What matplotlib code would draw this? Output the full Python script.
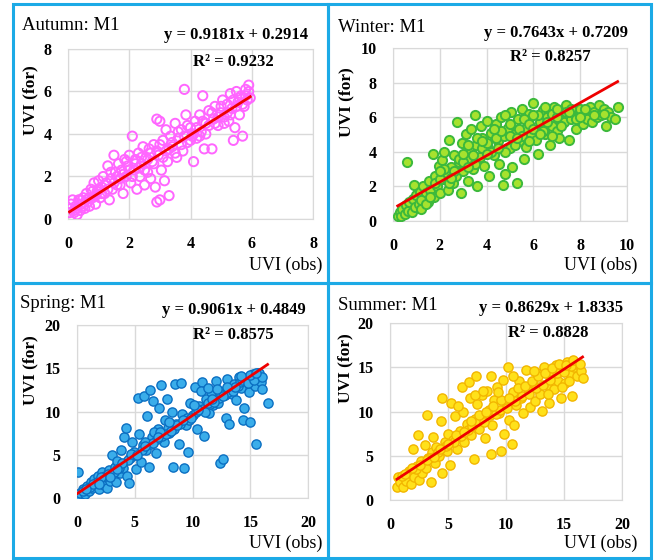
import numpy as np
import matplotlib
matplotlib.use('Agg')
import matplotlib.pyplot as plt
from matplotlib.patches import Rectangle

plt.rcParams['font.family'] = ['Liberation Serif', 'DejaVu Serif']

# ---- data (approximate) ----
autumn_x = [0.05, 0.1, 0.15, 0.2, 0.25, 0.3, 0.35, 0.4, 0.45, 0.5, 0.55, 0.6, 0.65, 0.7, 0.75, 0.8,
            0.85, 0.9, 0.95, 1.0, 1.05, 1.1, 1.15, 1.2, 1.25, 1.3, 1.35, 1.4, 1.45, 1.5, 1.55, 1.6,
            1.65, 1.7, 1.75, 1.8, 1.85, 1.9, 1.95, 2.0, 2.05, 2.1, 2.15, 2.2, 2.25, 2.3, 2.35, 2.4,
            2.45, 2.5, 2.55, 2.6, 2.65, 2.7, 2.75, 2.8, 2.85, 2.9, 2.9, 2.95, 3.0, 3.0, 3.05, 3.1,
            3.15, 3.2, 3.25, 3.3, 3.35, 3.4, 3.5, 3.55, 3.6, 3.7, 3.75, 3.8, 3.85, 3.9, 4.0, 4.05,
            4.1, 4.15, 4.2, 4.3, 4.35, 4.4, 4.45, 4.5, 4.6, 4.7, 4.75, 4.8, 4.9, 5.0, 5.05, 5.1,
            5.2, 5.25, 5.3, 5.35, 5.4, 5.45, 5.5, 5.55, 5.6, 5.65, 5.7, 5.75, 5.8, 5.85, 5.9, 5.95,
            0.1, 0.2, 0.3, 0.4, 0.5, 0.6, 0.7, 0.8, 0.9, 1.0, 1.1, 1.2, 1.3, 1.4, 1.5, 1.6,
            1.7, 1.8, 1.9, 2.0, 2.1, 2.2, 2.3, 2.4, 2.5, 2.6, 2.7, 2.8, 2.9, 3.0, 3.1, 3.2,
            3.3, 3.4, 3.5, 3.6, 3.7, 3.8, 3.9, 4.0, 4.1, 4.2, 4.3, 4.4, 4.5, 4.6, 4.7, 4.8,
            4.9, 5.0, 5.1, 5.2, 5.3, 5.4, 5.5, 5.6, 5.7, 5.8, 5.9]
autumn_y = [0.3, 0.5, 0.9, 0.3, 0.6, 0.2, 0.9, 0.4, 0.7, 1.0, 0.5, 1.2, 0.8, 0.6, 1.4, 1.0,
            1.7, 0.7, 1.3, 1.8, 1.0, 1.5, 2.0, 1.2, 1.7, 2.5, 0.9, 1.9, 1.4, 3.0, 2.2, 1.6,
            2.6, 1.9, 2.3, 1.2, 2.8, 2.0, 2.5, 3.0, 1.7, 3.9, 2.3, 2.8, 1.4, 3.1, 2.0, 2.6,
            3.4, 1.6, 2.9, 2.2, 3.3, 1.9, 2.7, 3.5, 1.5, 0.8, 4.7, 3.0, 0.9, 4.6, 2.3, 3.7,
            1.8, 3.2, 2.7, 1.1, 3.9, 3.4, 4.5, 2.9, 3.8, 4.2, 3.2, 6.1, 4.9, 3.6, 4.3, 3.9,
            2.7, 4.6, 3.8, 4.9, 4.1, 5.8, 3.3, 4.5, 5.1, 3.3, 4.7, 5.3, 4.4, 5.0, 5.6, 4.8,
            5.4, 4.6, 5.9, 5.2, 3.7, 4.3, 6.0, 5.5, 4.9, 5.8, 3.9, 5.3, 6.1, 5.6, 6.3, 5.7,
            0.7, 0.4, 0.5, 0.9, 0.6, 0.9, 1.0, 1.3, 1.1, 1.4, 1.2, 1.6, 1.4, 2.2, 1.7, 2.0,
            1.6, 2.1, 2.7, 2.3, 2.0, 2.6, 2.4, 2.9, 2.3, 2.8, 3.1, 2.6, 3.2, 3.5, 2.9, 4.2,
            3.3, 3.6, 3.1, 4.1, 3.5, 3.9, 4.4, 3.7, 4.0, 4.3, 3.9, 4.6, 4.0, 4.4, 5.0, 4.5,
            4.8, 5.3, 4.5, 5.0, 4.9, 5.6, 5.3, 5.7, 5.4, 5.8, 6.0]

winter_x = [0.2, 0.3, 0.35, 0.4, 0.5, 0.55, 0.6, 0.65, 0.7, 0.8, 0.85, 0.9, 0.95, 1.0, 1.1, 1.15,
            1.2, 1.3, 1.35, 1.4, 1.5, 1.55, 1.6, 1.7, 1.75, 1.8, 1.9, 1.95, 2.0, 2.1, 2.15, 2.2,
            2.3, 2.35, 2.4, 2.5, 2.55, 2.6, 2.7, 2.75, 2.8, 2.9, 2.95, 3.0, 3.1, 3.15, 3.2, 3.3,
            3.35, 3.4, 3.5, 3.55, 3.6, 3.7, 3.75, 3.8, 3.9, 4.0, 4.05, 4.1, 4.2, 4.3, 4.4, 4.5,
            4.55, 4.6, 4.7, 4.75, 4.8, 4.9, 5.0, 5.05, 5.1, 5.2, 5.3, 5.35, 5.4, 5.5, 5.6, 5.65,
            5.7, 5.8, 5.9, 6.0, 6.1, 6.2, 6.3, 6.4, 6.5, 6.6, 6.7, 6.8, 6.9, 7.0, 7.1, 7.2,
            7.3, 7.4, 7.5, 7.6, 7.7, 7.8, 7.9, 8.0, 8.1, 8.2, 8.3, 8.4, 8.5, 8.6, 8.7, 8.8,
            8.9, 9.0, 9.1, 9.2, 9.3, 9.5, 9.6,
            1.2, 1.4, 1.6, 1.8, 2.0, 2.2, 2.4, 2.6, 2.8, 3.0, 3.2, 3.4, 3.6, 3.8, 4.0, 4.2,
            4.4, 4.6, 4.8, 5.0, 5.2, 5.4, 5.6, 5.8, 6.0, 6.2, 6.4, 6.6, 6.8, 7.0, 7.2, 7.4,
            7.6, 7.8, 8.0, 8.2, 8.6, 9.0, 2.0, 2.5, 3.0, 3.5, 4.0, 4.5, 5.0, 5.5, 6.0, 6.5,
            7.0, 7.5, 3.2, 3.8, 4.3, 4.8, 5.3, 5.8, 6.3, 6.8]
winter_y = [0.3, 0.5, 0.3, 0.7, 0.4, 0.9, 3.4, 0.6, 1.1, 0.5, 1.3, 2.1, 0.8, 1.5, 1.0, 1.7,
            0.7, 2.0, 1.3, 1.6, 1.1, 2.3, 1.8, 3.9, 1.4, 2.6, 2.0, 3.2, 1.6, 3.5, 2.4, 4.0,
            2.8, 1.8, 4.7, 3.1, 2.2, 3.8, 2.6, 5.7, 3.4, 1.6, 4.5, 2.9, 5.0, 3.6, 2.3, 4.1,
            5.3, 3.0, 6.1, 4.4, 2.0, 3.7, 5.5, 4.8, 3.2, 5.8, 4.2, 2.6, 5.1, 3.8, 5.6, 4.6,
            3.3, 6.0, 2.1, 4.9, 2.7, 5.4, 4.2, 6.3, 3.1, 5.0, 2.2, 5.9, 4.6, 6.5, 3.6, 5.3,
            4.3, 6.2, 5.0, 6.8, 4.7, 3.9, 5.7, 6.4, 5.0, 6.0, 4.4, 5.5, 6.6, 5.2, 4.8, 6.2,
            5.7, 6.7, 4.7, 5.9, 6.3, 5.3, 6.0, 6.5, 5.6, 6.2, 5.9, 6.6, 5.7, 6.3, 6.0, 6.7,
            6.1, 6.5, 5.5, 6.3, 6.0, 5.9, 6.6,
            1.2, 1.0, 1.4, 2.2, 2.4, 3.0, 2.2, 2.9, 3.6, 3.4, 4.4, 3.8, 4.8, 4.2, 4.5, 4.0,
            4.8, 5.2, 4.0, 5.6, 4.4, 5.3, 5.9, 5.6, 5.3, 6.1, 5.2, 5.7, 6.2, 6.0, 5.5, 6.3,
            6.5, 5.9, 6.0, 6.5, 6.1, 6.2, 2.9, 2.5, 3.9, 3.3, 3.9, 4.2, 4.9, 4.9, 6.1, 6.6,
            6.5, 6.3, 3.1, 4.6, 5.3, 6.1, 4.8, 4.6, 5.0, 4.9]

spring_x = [0.0, 0.05, 0.1, 0.3, 0.5, 0.7, 0.9, 1.0, 1.2, 1.3, 1.5, 1.6, 1.8, 1.9, 2.0, 2.2,
            2.3, 2.5, 2.6, 2.8, 2.9, 3.0, 3.1, 3.3, 3.4, 3.5, 3.7, 3.8, 4.0, 4.1, 4.2, 4.3,
            4.5, 4.6, 4.8, 5.0, 5.1, 5.3, 5.4, 5.5, 5.7, 5.8, 6.0, 6.1, 6.2, 6.3, 6.5, 6.6,
            6.8, 7.0, 7.1, 7.3, 7.5, 7.6, 7.8, 8.0, 8.2, 8.3, 8.5, 8.6, 8.8, 9.0, 9.1, 9.3,
            9.4, 9.6, 9.8, 10.0, 10.2, 10.4, 10.6, 10.8, 11.0, 11.2, 11.4, 11.6, 11.8, 12.0, 12.2, 12.4,
            12.6, 12.7, 12.9, 13.0, 13.2, 13.4, 13.6, 13.8, 14.0, 14.2, 14.4, 14.5, 14.7, 14.9, 15.0, 15.2,
            15.4, 15.5, 15.7, 15.9, 16.0, 16.5,
            2.4, 3.6, 4.4, 5.6, 6.4, 6.9, 7.4, 7.9, 8.4, 8.9, 9.5, 10.3, 10.9, 11.5, 12.3, 12.8,
            13.3, 13.9, 14.6, 15.6, 1.1, 1.7, 2.7, 3.2, 4.9, 6.7, 7.7, 9.7, 11.1, 12.5, 13.1, 14.1, 15.1,
            0.5, 1.4, 2.1, 2.9, 3.9, 4.7, 5.2, 5.9, 6.6, 7.2, 8.1, 8.7, 9.2, 9.9, 10.5, 11.3,
            11.9, 12.6, 13.5, 14.3, 14.8, 15.3, 15.8, 0.8, 1.9, 3.5, 5.9, 7.0, 8.0, 10.1, 11.7, 13.7,
            15.0, 16.0, 10.7, 11.3, 12.1, 13.0, 14.2, 15.5]
spring_y = [0.0, 3.0, 0.3, 0.6, 1.0, 0.5, 1.4, 0.8, 1.8, 1.1, 2.2, 1.5, 2.6, 1.0, 2.0, 3.0,
            1.5, 2.4, 1.2, 3.2, 2.0, 5.0, 2.7, 3.6, 1.8, 4.3, 2.9, 5.5, 3.5, 7.0, 8.1, 2.5,
            1.7, 4.6, 6.5, 5.0, 3.4, 11.6, 7.4, 4.2, 6.1, 11.8, 5.5, 9.5, 3.6, 12.5, 7.0, 11.2,
            5.2, 8.0, 10.4, 13.1, 6.5, 9.0, 11.5, 7.5, 10.0, 3.6, 13.2, 8.6, 6.2, 13.3, 9.7, 3.5,
            8.4, 5.3, 11.0, 9.6, 12.8, 8.0, 10.6, 13.4, 7.2, 11.5, 9.8, 12.3, 10.7, 13.5, 11.0, 4.0,
            4.5, 12.4, 9.2, 13.8, 8.5, 12.0, 13.2, 11.3, 14.0, 12.7, 9.0, 10.4, 13.6, 12.2, 8.8, 14.3,
            13.0, 6.2, 14.5, 13.4, 12.6, 11.0,
            2.6, 3.5, 4.4, 5.6, 6.3, 6.8, 7.2, 8.1, 8.0, 8.6, 9.2, 10.0, 10.3, 10.9, 11.6, 11.9,
            12.6, 13.0, 13.9, 14.0, 1.3, 1.9, 2.8, 3.0, 5.3, 7.6, 7.4, 9.0, 10.0, 12.0, 12.3, 13.4, 13.7,
            0.8, 1.6, 2.4, 2.4, 4.0, 5.1, 5.0, 6.5, 6.4, 7.6, 7.8, 8.4, 9.0, 9.3, 10.2, 11.0,
            11.1, 11.8, 12.4, 13.6, 13.3, 13.6, 14.4, 1.0, 1.6, 3.3, 6.0, 7.0, 8.8, 10.8, 11.5, 12.8,
            14.2, 14.0, 12.4, 12.7, 12.6, 12.8, 14.1, 14.5]

summer_x = [0.6, 0.7, 0.9, 1.1, 1.2, 1.4, 1.6, 1.8, 2.0, 2.1, 2.3, 2.4, 2.5, 2.7, 2.8, 3.0,
            3.1, 3.2, 3.3, 3.5, 3.6, 3.7, 3.9, 4.0, 4.2, 4.4, 4.5, 4.5, 4.7, 4.9, 5.0, 5.2,
            5.3, 5.4, 5.6, 5.8, 6.0, 6.2, 6.3, 6.4, 6.6, 6.8, 6.9, 7.0, 7.2, 7.3, 7.4, 7.5,
            7.7, 7.9, 8.0, 8.2, 8.4, 8.5, 8.7, 8.7, 8.8, 9.0, 9.2, 9.4, 9.6, 9.7, 9.8, 10.0,
            10.2, 10.3, 10.5, 10.6, 10.7, 10.9, 11.1, 11.3, 11.5, 11.7, 11.9, 12.1, 12.3, 12.5, 12.7, 12.9,
            13.1, 13.3, 13.5, 13.7, 13.9, 14.1, 14.3, 14.5, 14.7, 14.9, 15.1, 15.3, 15.5, 15.7, 15.9, 16.1,
            16.3, 16.5, 16.6,
            1.0, 2.2, 3.4, 4.1, 4.8, 5.5, 6.1, 6.7, 7.1, 7.6, 8.1, 8.6, 9.1, 9.5, 10.1, 10.8,
            11.4, 12.0, 12.6, 13.2, 13.8, 14.4, 15.0, 15.6,
            1.3, 1.9, 2.6, 3.2, 3.8, 4.3, 5.0, 5.7, 6.4, 7.0, 7.7, 8.3, 8.9, 9.6, 10.3, 11.0,
            11.6, 12.2, 12.8, 13.4, 14.0, 14.6, 15.2, 15.8, 16.4, 5.9, 7.3, 8.0, 9.3, 10.6, 12.4, 13.6,
            14.8, 15.4]
summer_y = [1.5, 2.6, 2.0, 1.5, 2.8, 2.2, 3.3, 1.8, 5.8, 2.6, 3.8, 7.3, 2.3, 4.4, 3.0, 6.2,
            3.6, 9.6, 4.8, 2.0, 5.4, 7.1, 4.2, 6.0, 5.0, 8.9, 3.0, 11.5, 6.6, 5.5, 7.5, 4.0,
            11.0, 6.8, 9.5, 5.8, 7.8, 12.8, 10.0, 6.5, 8.6, 13.3, 11.5, 7.3, 4.6, 9.2, 14.0, 10.8,
            8.0, 11.9, 9.5, 7.0, 12.3, 10.2, 5.2, 14.0, 8.5, 11.3, 12.8, 9.8, 5.5, 13.6, 7.5, 11.0,
            15.0, 9.0, 6.3, 12.2, 8.5, 10.7, 13.5, 11.5, 9.8, 14.7, 12.5, 10.5, 13.2, 11.2, 14.3, 12.0,
            10.1, 15.0, 13.0, 11.0, 14.2, 12.5, 15.3, 13.5, 11.5, 14.8, 13.2, 15.6, 14.2, 11.7, 15.0, 14.0,
            15.2, 14.6, 13.8,
            2.7, 3.5, 4.7, 5.4, 6.1, 6.6, 7.2, 7.9, 8.4, 8.9, 8.8, 9.6, 9.7, 10.2, 10.4, 11.2,
            11.8, 12.0, 12.6, 13.0, 13.6, 14.3, 14.5, 15.1,
            2.9, 3.6, 3.9, 4.5, 4.9, 5.8, 6.3, 7.3, 7.7, 8.9, 9.6, 10.0, 10.6, 11.3, 11.5, 12.6,
            12.9, 13.5, 14.0, 14.4, 14.9, 15.4, 15.3, 15.8, 15.4, 10.6, 11.9, 12.3, 12.2, 14.0, 14.6, 12.0,
            12.8, 13.5]

titles = ['Autumn: M1', 'Winter: M1', 'Spring: M1', 'Summer: M1']
slopes = [0.9181, 0.7643, 0.9061, 0.8629]
intercepts = [0.2914, 0.7209, 0.4849, 1.8335]
r2 = [0.9232, 0.8257, 0.8575, 0.8828]
axis_max = [8, 10, 20, 20]
tick_step = [2, 2, 5, 5]

W, H = 654, 560
fig = plt.figure(figsize=(W / 100, H / 100), dpi=100)

def fx(px):
    return px / W

def fy(py):
    return 1 - py / H

# axes boxes in pixels: x0, x1, ytop, ybottom
boxes = [(68, 313, 49, 219), (393, 627, 48, 221), (77, 308, 325, 498), (390, 622, 323, 500)]
# text anchors in pixels
title_pos = [(22, 25), (338, 27), (20, 303), (338, 305)]
eq_pos = [(308, 35), (628, 33), (306, 310), (623, 308)]
r2_pos = [(193, 62), (510, 57), (193, 335), (508, 333)]
ylab_pos = [(30, 100), (346, 102), (30, 370), (345, 368)]
xlab_pos = [(322, 265), (637, 265), (322, 543), (637, 543)]

data = [(autumn_x, autumn_y), (winter_x, winter_y), (spring_x, spring_y), (summer_x, summer_y)]
styles = [
    dict(facecolors='none', edgecolors='#FF66FF', linewidths=1.4),
    dict(facecolors='#A6E22E', edgecolors='#3CB93C', linewidths=1.4),
    dict(facecolors='#3AADEA', edgecolors='#0B6FC2', linewidths=1.0),
    dict(facecolors='#FFE11A', edgecolors='#F2B600', linewidths=1.0),
]

for i in range(4):
    x0, x1, yt, yb = boxes[i]
    ax = fig.add_axes([fx(x0), fy(yb), fx(x1 - x0), (yb - yt) / H])
    xs, ys = data[i]
    ax.scatter(xs, ys, s=44, zorder=3, **styles[i])
    lx = np.array([min(xs), max(xs)])
    ax.plot(lx, slopes[i] * lx + intercepts[i], color='#EE0000', lw=2.0, zorder=4)

    m = axis_max[i]
    ax.set_xlim(0, m)
    ax.set_ylim(0, m)
    ticks = np.arange(0, m + 1, tick_step[i])
    ax.set_xticks(ticks)
    ax.set_yticks(ticks)
    ax.grid(True, color='#D9D9D9', lw=1.0, zorder=0)
    for s in ax.spines.values():
        s.set_color('#D9D9D9')
    ax.tick_params(length=0, labelsize=11.5, pad=12)
    for lab in ax.get_xticklabels() + ax.get_yticklabels():
        lab.set_fontweight('bold')

    fig.text(fx(title_pos[i][0]), fy(title_pos[i][1]), titles[i], fontsize=13.5,
             ha='left', va='center')
    fig.text(fx(eq_pos[i][0]), fy(eq_pos[i][1]),
             'y = %.4fx + %.4f' % (slopes[i], intercepts[i]),
             fontsize=12, fontweight='bold', ha='right', va='center')
    fig.text(fx(r2_pos[i][0]), fy(r2_pos[i][1]), 'R² = %.4f' % r2[i],
             fontsize=12, fontweight='bold', ha='left', va='center')
    fig.text(fx(ylab_pos[i][0]), fy(ylab_pos[i][1]), 'UVI (for)', fontsize=12.5,
             fontweight='bold', rotation=90, ha='center', va='center')
    fig.text(fx(xlab_pos[i][0]), fy(xlab_pos[i][1]), 'UVI (obs)', fontsize=13,
             ha='right', va='center')

# blue panel frames
border = '#1CAAE6'
for (px0, py0, px1, py1) in [(13, 4, 328, 283), (328, 4, 651, 283), (13, 283, 328, 558), (328, 283, 651, 558)]:
    fig.patches.append(Rectangle((fx(px0), fy(py1)), fx(px1 - px0), (py1 - py0) / H,
                                 transform=fig.transFigure, fill=False, edgecolor=border, lw=2.2))

fig.savefig('out.png', dpi=100)
